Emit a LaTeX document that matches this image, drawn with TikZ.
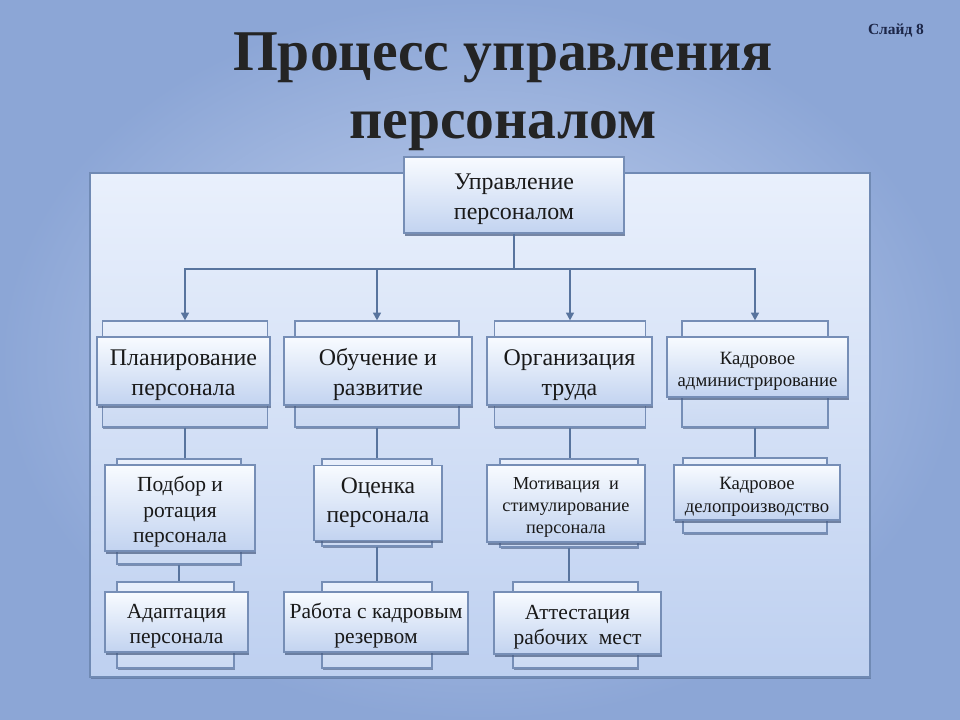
\documentclass[tikz,border=0pt]{standalone}
\usepackage{fontspec}
\setmainfont{Liberation Serif}
\usetikzlibrary{arrows.meta, positioning, calc, shadows}

\definecolor{bgOuter}{RGB}{140,166,214}
\definecolor{bgInner}{RGB}{198,212,240}
\definecolor{panelTop}{RGB}{233,240,252}
\definecolor{panelBottom}{RGB}{190,208,240}
\definecolor{panelLine}{RGB}{112,138,180}
\definecolor{boxTop}{RGB}{248,251,255}
\definecolor{boxBottom}{RGB}{194,211,240}
\definecolor{boxLine}{RGB}{118,142,182}
\definecolor{linkBlue}{RGB}{88,116,158}
\definecolor{shadowBlue}{RGB}{72,92,128}
\definecolor{titleInk}{RGB}{36,36,36}
\definecolor{slideInk}{RGB}{28,38,72}

% extra room above the first line, so the text sits a little lower
\newcommand{\boxlift}{\rule{0pt}{\dimexpr 0.66em+6pt\relax}}

\begin{document}
\begin{tikzpicture}[x=0.025cm, y=-0.025cm]
    % --- Style Definitions ---
    \tikzset{
        front box/.style={
            draw=boxLine,
            line width=0.8pt,
            top color=boxTop,
            bottom color=boxBottom,
            align=center,
            inner sep=2pt,
            text=black!90,
            drop shadow={shadow xshift=0.8pt, shadow yshift=-1.8pt,
                fill=shadowBlue, opacity=0.7}
        },
        back box/.style={
            draw=boxLine,
            line width=0.8pt,
            top color=panelTop,
            bottom color=boxBottom!85!white,
            drop shadow={shadow xshift=0.6pt, shadow yshift=-1.4pt,
                fill=shadowBlue, opacity=0.6}
        },
        link line/.style={
            draw=linkBlue,
            line width=1.3pt
        },
        link arrow/.style={
            link line,
            -{Triangle[length=5.5pt, width=5.5pt]}
        },
        big text/.style={font=\fontsize{17}{21.3}\selectfont},
        mid text/.style={font=\fontsize{15.3}{18.2}\selectfont},
        small text/.style={font=\fontsize{13.3}{16}\selectfont}
    }

    % --- 1. Background and title ---
    \useasboundingbox (0,0) rectangle (960,720);
    \shade[inner color=bgInner, outer color=bgOuter] (0,0) rectangle (960,720);

    \node[font=\fontsize{41}{48.4}\selectfont\bfseries, text=titleInk, align=center]
        (title) at (503,92) {Процесс управления\\персоналом};
    \node[font=\fontsize{11}{13}\selectfont\bfseries, text=slideInk]
        (slide) at (896,31) {Слайд 8};

    % --- 2. Panel ---
    \shade[draw=panelLine, line width=1.4pt, top color=panelTop, bottom color=panelBottom,
        drop shadow={shadow xshift=1pt, shadow yshift=-1.5pt, fill=shadowBlue, opacity=0.5}]
        (90,173) rectangle (870,677);

    % --- 3. Top box ---
    \node[front box, big text, minimum width=5.5cm, minimum height=1.9cm]
        (head) at (514,195) {\boxlift Управление\\персоналом};

    % --- 4. First row ---
    \node[back box, minimum width=4.125cm, minimum height=2.65cm] (plan-b) at (185,374) {};
    \node[front box, big text, minimum width=4.325cm, minimum height=1.7cm]
        (plan) at (183.5,371) {\boxlift Планирование\\персонала};

    \node[back box, minimum width=4.1cm, minimum height=2.65cm] (learn-b) at (377,374) {};
    \node[front box, big text, minimum width=4.7cm, minimum height=1.7cm]
        (learn) at (378,371) {\boxlift Обучение и\\развитие};

    \node[back box, minimum width=3.775cm, minimum height=2.65cm] (work-b) at (570,374) {};
    \node[front box, big text, minimum width=4.125cm, minimum height=1.7cm]
        (work) at (569.5,371) {\boxlift Организация\\труда};

    \node[back box, minimum width=3.65cm, minimum height=2.65cm] (admin-b) at (755,374) {};
    \node[front box, small text, minimum width=4.525cm, minimum height=1.5cm]
        (admin) at (757.5,367) {\boxlift Кадровое\\администрирование};

    % --- 5. Second row ---
    \node[back box, minimum width=3.1cm, minimum height=2.625cm] (select-b) at (179,511.5) {};
    \node[front box, mid text, minimum width=3.75cm, minimum height=2.15cm]
        (select) at (180,508) {\boxlift Подбор и\\ротация\\персонала};

    \node[back box, minimum width=2.75cm, minimum height=2.175cm] (assess-b) at (377,502.5) {};
    \node[front box, font=\fontsize{16.8}{20.5}\selectfont, minimum width=3.2cm, minimum height=1.875cm]
        (assess) at (378,503) {Оценка\\персонала};

    \node[back box, minimum width=3.45cm, minimum height=2.2cm] (motiv-b) at (569,503) {};
    \node[front box, font=\fontsize{13}{15.6}\selectfont, minimum width=3.95cm, minimum height=1.925cm]
        (motiv) at (566,503.5) {\boxlift Мотивация \ и\\стимулирование\\персонала};

    \node[back box, minimum width=3.6cm, minimum height=1.875cm] (docs-b) at (755,495.5) {};
    \node[front box, small text, minimum width=4.15cm, minimum height=1.375cm]
        (docs) at (757,492.5) {\boxlift Кадровое\\делопроизводство};

    % --- 6. Third row ---
    \node[back box, minimum width=2.925cm, minimum height=2.15cm] (adapt-b) at (175.5,625) {};
    \node[front box, mid text, minimum width=3.575cm, minimum height=1.5cm]
        (adapt) at (176.5,622) {\boxlift Адаптация\\персонала};

    \node[back box, minimum width=2.75cm, minimum height=2.15cm] (reserve-b) at (377,625) {};
    \node[front box, mid text, minimum width=4.6cm, minimum height=1.5cm]
        (reserve) at (376,622) {\boxlift Работа с кадровым\\резервом};

    \node[back box, minimum width=3.125cm, minimum height=2.15cm] (certify-b) at (575.5,625) {};
    \node[front box, mid text, minimum width=4.175cm, minimum height=1.55cm]
        (certify) at (577.5,623) {\boxlift Аттестация\\рабочих \ мест};

    % --- 7. Connectors ---
    \coordinate (bus) at (514,269);
    \draw[link line] (head.south) -- (bus);
    \foreach \dest in {plan-b, learn-b, work-b, admin-b}
        \draw[link arrow] (bus) -| (\dest.north);

    \draw[link line] (plan-b.south) -- (plan-b.south |- select-b.north);
    \draw[link line] (learn-b.south) -- (learn-b.south |- assess-b.north);
    \draw[link line] (work-b.south) -- (work-b.south |- motiv-b.north);
    \draw[link line] (admin-b.south) -- (admin-b.south |- docs-b.north);

    \draw[link line] (select-b.south) -- (select-b.south |- adapt-b.north);
    \draw[link line] (assess-b.south) -- (assess-b.south |- reserve-b.north);
    \draw[link line] (motiv-b.south) -- (motiv-b.south |- certify-b.north);

\end{tikzpicture}
\end{document}
